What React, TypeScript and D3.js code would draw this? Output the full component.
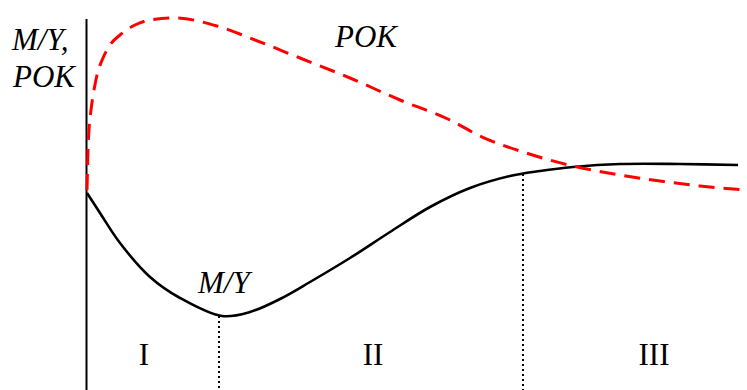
import React from "react";
import * as d3 from "d3";

// M/Y curve (time, level)
const myX = [0, 1.3, 3.3, 6.3, 9.3, 13.5, 16.3, 19.3, 22.3, 26.3, 30.3, 34.3, 38.3, 42.3, 45.3, 48.6, 53.3, 59.3, 65.1];
const myY = [19.7, 17.7, 14.7, 11.3, 9.2, 7.4, 7.8, 9.1, 10.8, 13.2, 15.8, 18.3, 20.2, 21.4, 21.9, 22.3, 22.6, 22.6, 22.5];

// POK curve
const pokX = [0, 0.05, 0.1, 0.2, 0.4, 0.7, 1.0, 1.6, 2.3, 3.3, 4.8, 6.3, 8.8, 13, 16.3, 21.3, 26.3, 31.3, 36.3, 39.3, 43.6, 48.6, 53.3, 57.3, 61.3, 66];
const pokY = [20, 22, 24, 26, 28, 30, 31.5, 33.2, 34.5, 35.5, 36.5, 37, 37.2, 36.4, 35.2, 33.2, 31.2, 29, 27, 25.4, 23.8, 22.4, 21.5, 20.9, 20.4, 20];

// phases
const phaseNames = ["I", "II", "III"];
const phaseLabelX = [5.7, 28.6, 56.7];
const phaseBounds = [13.2, 43.6];
const phaseBoundTop = [7.4, 21.6];

const W = 747, H = 390;
const SERIF = "Liberation Serif, DejaVu Serif, Times New Roman, serif";

export default function App() {
  const x = d3.scaleLinear().domain([0, 66]).range([87, 747]);
  const y = d3.scaleLinear().domain([0, 37]).range([390, 20]);

  const smooth = d3.line<[number, number]>()
    .x(d => x(d[0]))
    .y(d => y(d[1]))
    .curve(d3.curveCatmullRom.alpha(0.5));

  const mono = d3.line<[number, number]>()
    .x(d => x(d[0]))
    .y(d => y(d[1]))
    .curve(d3.curveMonotoneX);

  const myPts = myX.map((v, i) => [v, myY[i]] as [number, number]);
  const pokPts = pokX.map((v, i) => [v, pokY[i]] as [number, number]);

  return (
    <svg width={W} height={H} style={{ position: "absolute", left: 0, top: 0, background: "#fff" }}>
      {phaseBounds.map((b, i) => (
        <line key={i} x1={x(b)} x2={x(b)} y1={y(phaseBoundTop[i])} y2={H}
          stroke="#000" strokeWidth={2} strokeDasharray="2,3" />
      ))}
      <line x1={86.5} x2={86.5} y1={19} y2={H} stroke="#000" strokeWidth={2} />
      <path d={smooth(myPts) || ""} fill="none" stroke="#000" strokeWidth={2.6} />
      <path d={mono(pokPts) || ""} fill="none" stroke="#ff0000" strokeWidth={3} strokeDasharray="16,9" />
      <g fontFamily={SERIF} fontStyle="italic" fontSize={31}>
        <text x={12} y={50}>M/Y,</text>
        <text x={13} y={87}>POK</text>
        <text x={335} y={47}>POK</text>
        <text x={198} y={293}>M/Y</text>
      </g>
      <g fontFamily={SERIF} fontSize={31} textAnchor="middle">
        {phaseNames.map((n, i) => (
          <text key={n} x={x(phaseLabelX[i])} y={365}>{n}</text>
        ))}
      </g>
    </svg>
  );
}
